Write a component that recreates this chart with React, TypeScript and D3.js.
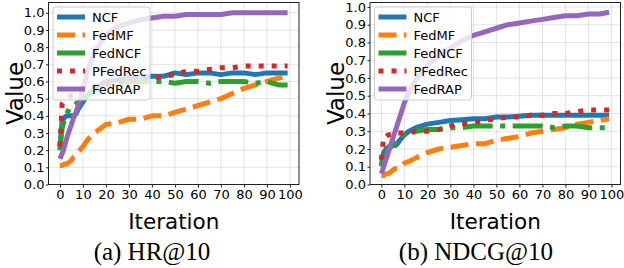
import { useRef, useEffect } from 'react'
import * as d3 from 'd3'

const iterations = [0, 1, 2, 3, 4, 5, 6, 7, 8, 10, 12, 15, 20, 25, 30, 35, 40, 45, 50, 55, 60, 65, 70, 75, 80, 85, 90, 95, 99]

const methods = ['NCF', 'FedMF', 'FedNCF', 'PFedRec', 'FedRAP']

// (a) HR@10
const hrNCF = [0.22, 0.37, 0.39, 0.4, 0.4, 0.4, 0.4, 0.41, 0.44, 0.48, 0.52, 0.56, 0.6, 0.61, 0.62, 0.62, 0.63, 0.63, 0.65, 0.64, 0.65, 0.65, 0.64, 0.65, 0.65, 0.64, 0.65, 0.65, 0.65]
const hrFedMF = [0.11, 0.11, 0.12, 0.12, 0.13, 0.14, 0.16, 0.17, 0.19, 0.22, 0.26, 0.3, 0.35, 0.36, 0.38, 0.38, 0.4, 0.4, 0.42, 0.44, 0.46, 0.48, 0.5, 0.53, 0.56, 0.58, 0.6, 0.62, 0.63]
const hrFedNCF = [0.2, 0.33, 0.38, 0.41, 0.44, 0.45, 0.46, 0.47, 0.48, 0.5, 0.52, 0.55, 0.58, 0.59, 0.6, 0.6, 0.6, 0.6, 0.59, 0.6, 0.6, 0.59, 0.6, 0.6, 0.6, 0.59, 0.6, 0.58, 0.58]
const hrPFedRec = [0.22, 0.47, 0.49, 0.5, 0.51, 0.52, 0.52, 0.53, 0.54, 0.55, 0.56, 0.57, 0.59, 0.6, 0.61, 0.61, 0.62, 0.63, 0.64, 0.66, 0.66, 0.67, 0.68, 0.68, 0.69, 0.69, 0.69, 0.69, 0.69]
const hrFedRAP = [0.15, 0.18, 0.22, 0.27, 0.31, 0.35, 0.39, 0.42, 0.46, 0.55, 0.66, 0.77, 0.87, 0.92, 0.94, 0.96, 0.97, 0.98, 0.98, 0.99, 0.99, 0.99, 0.99, 1.0, 1.0, 1.0, 1.0, 1.0, 1.0]

// (b) NDCG@10
const ndcgNCF = [0.11, 0.18, 0.2, 0.21, 0.22, 0.22, 0.22, 0.23, 0.25, 0.28, 0.3, 0.32, 0.34, 0.35, 0.36, 0.365, 0.37, 0.37, 0.38, 0.38, 0.385, 0.39, 0.39, 0.39, 0.39, 0.39, 0.39, 0.39, 0.39]
const ndcgFedMF = [0.05, 0.05, 0.06, 0.06, 0.07, 0.08, 0.09, 0.09, 0.1, 0.12, 0.13, 0.15, 0.18, 0.2, 0.21, 0.22, 0.23, 0.23, 0.25, 0.26, 0.27, 0.29, 0.3, 0.31, 0.32, 0.34, 0.35, 0.36, 0.37]
const ndcgFedNCF = [0.1, 0.14, 0.17, 0.2, 0.21, 0.22, 0.23, 0.25, 0.26, 0.28, 0.29, 0.3, 0.31, 0.31, 0.32, 0.32, 0.33, 0.33, 0.33, 0.33, 0.33, 0.33, 0.33, 0.32, 0.33, 0.33, 0.32, 0.32, 0.32]
const ndcgPFedRec = [0.14, 0.27, 0.27, 0.28, 0.28, 0.28, 0.28, 0.29, 0.29, 0.29, 0.29, 0.3, 0.3, 0.31, 0.33, 0.34, 0.35, 0.36, 0.37, 0.38, 0.38, 0.39, 0.39, 0.4, 0.4, 0.41, 0.42, 0.42, 0.42]
const ndcgFedRAP = [0.06, 0.1, 0.14, 0.18, 0.22, 0.26, 0.3, 0.34, 0.38, 0.46, 0.52, 0.59, 0.67, 0.73, 0.77, 0.81, 0.84, 0.86, 0.88, 0.9, 0.91, 0.92, 0.93, 0.94, 0.95, 0.95, 0.96, 0.96, 0.97]

const xTicks = [0, 10, 20, 30, 40, 50, 60, 70, 80, 90, 100]
const yTicks = [0, 0.1, 0.2, 0.3, 0.4, 0.5, 0.6, 0.7, 0.8, 0.9, 1.0]

const colors = ['#1f77b4', '#ff7f0e', '#2ca02c', '#d62728', '#9467bd']
const dashes = [null, '18 7.5', '30 7.5 5 7.5', '5 8', null]
const lineWidth = 5
const sans = 'DejaVu Sans, sans-serif'

function drawPanel(root, { id, left, right, top, bottom, yMax, series, caption, captionX }) {
  const g = d3.select(root)
  g.selectAll('*').remove()

  const x = d3.scaleLinear().domain([-4.95, 103.95]).range([left, right])
  const y = d3.scaleLinear().domain([0, yMax]).range([bottom, top])

  g.append('clipPath')
    .attr('id', id)
    .append('rect')
    .attr('x', left)
    .attr('y', top)
    .attr('width', right - left)
    .attr('height', bottom - top)

  // grid
  g.append('g')
    .selectAll('line')
    .data(xTicks)
    .join('line')
    .attr('x1', (d) => x(d))
    .attr('x2', (d) => x(d))
    .attr('y1', top)
    .attr('y2', bottom)
    .attr('stroke', '#b0b0b0')
    .attr('stroke-opacity', 0.45)
    .attr('stroke-width', 0.8)
  g.append('g')
    .selectAll('line')
    .data(yTicks)
    .join('line')
    .attr('x1', left)
    .attr('x2', right)
    .attr('y1', (d) => y(d))
    .attr('y2', (d) => y(d))
    .attr('stroke', '#b0b0b0')
    .attr('stroke-opacity', 0.45)
    .attr('stroke-width', 0.8)

  const line = d3
    .line()
    .x((d, i) => x(iterations[i]))
    .y((d) => y(d))

  g.append('g')
    .attr('clip-path', `url(#${id})`)
    .selectAll('path')
    .data(series)
    .join('path')
    .attr('d', (d) => line(d))
    .attr('fill', 'none')
    .attr('stroke', (d, i) => colors[i])
    .attr('stroke-width', lineWidth)
    .attr('stroke-dasharray', (d, i) => dashes[i])
    .attr('stroke-linejoin', 'round')

  // spines
  g.append('rect')
    .attr('x', left)
    .attr('y', top)
    .attr('width', right - left)
    .attr('height', bottom - top)
    .attr('fill', 'none')
    .attr('stroke', '#222')
    .attr('stroke-width', 1)

  const xAxis = d3.axisBottom(x).tickValues(xTicks).tickSize(3).tickPadding(2).tickFormat(d3.format('d'))
  const yAxis = d3.axisLeft(y).tickValues(yTicks).tickSize(2.5).tickPadding(1.5).tickFormat(d3.format('.1f'))

  const xg = g.append('g').attr('transform', `translate(0,${bottom})`).call(xAxis)
  const yg = g.append('g').attr('transform', `translate(${left},0)`).call(yAxis)
  ;[xg, yg].forEach((a) => {
    a.select('.domain').remove()
    a.selectAll('text').attr('font-family', sans).attr('font-size', 13).attr('fill', '#000')
    a.selectAll('line').attr('stroke', '#222')
  })

  // legend
  const lg = g.append('g').attr('transform', `translate(${left + 4.5},${top + 4.5})`)
  lg.append('rect')
    .attr('width', 97)
    .attr('height', 93)
    .attr('rx', 3)
    .attr('fill', '#fff')
    .attr('fill-opacity', 0.8)
    .attr('stroke', '#ccc')
    .attr('stroke-width', 1)
  const rows = lg
    .selectAll('.row')
    .data(methods)
    .join('g')
    .attr('class', 'row')
    .attr('transform', (d, i) => `translate(0,${10 + i * 18})`)
  rows
    .append('line')
    .attr('x1', 4)
    .attr('x2', 32)
    .attr('stroke', (d, i) => colors[i])
    .attr('stroke-width', lineWidth)
    .attr('stroke-dasharray', (d, i) => dashes[i])
  rows
    .append('text')
    .attr('x', 39)
    .attr('dy', '0.35em')
    .attr('font-family', sans)
    .attr('font-size', 13)
    .text((d) => d)

  // axis titles
  g.append('text')
    .attr('x', (left + right) / 2)
    .attr('y', 228.5)
    .attr('text-anchor', 'middle')
    .attr('font-family', sans)
    .attr('font-size', 21.5)
    .text('Iteration')
  g.append('text')
    .attr('transform', `translate(${left - 26},${(top + bottom) / 2}) rotate(-90)`)
    .attr('text-anchor', 'middle')
    .attr('font-family', sans)
    .attr('font-size', 23)
    .text('Value')

  g.append('text')
    .attr('x', captionX)
    .attr('y', 260)
    .attr('text-anchor', 'middle')
    .attr('font-family', 'Liberation Serif, Times New Roman, serif')
    .attr('font-size', 25)
    .text(caption)
}

export default function App() {
  const leftRef = useRef(null)
  const rightRef = useRef(null)

  useEffect(() => {
    drawPanel(leftRef.current, {
      id: 'clip-hr',
      left: 48.5,
      right: 299,
      top: 2.5,
      bottom: 184.5,
      yMax: 1.06,
      series: [hrNCF, hrFedMF, hrFedNCF, hrPFedRec, hrFedRAP],
      caption: '(a) HR@10',
      captionX: 152,
    })
    drawPanel(rightRef.current, {
      id: 'clip-ndcg',
      left: 370,
      right: 620.5,
      top: 2.5,
      bottom: 184.5,
      yMax: 1.025,
      series: [ndcgNCF, ndcgFedMF, ndcgFedNCF, ndcgPFedRec, ndcgFedRAP],
      caption: '(b) NDCG@10',
      captionX: 476,
    })
  }, [])

  return (
    <svg width={624} height={268} style={{ position: 'absolute', left: 0, top: 0, background: '#fff' }}>
      <g ref={leftRef} />
      <g ref={rightRef} />
    </svg>
  )
}
